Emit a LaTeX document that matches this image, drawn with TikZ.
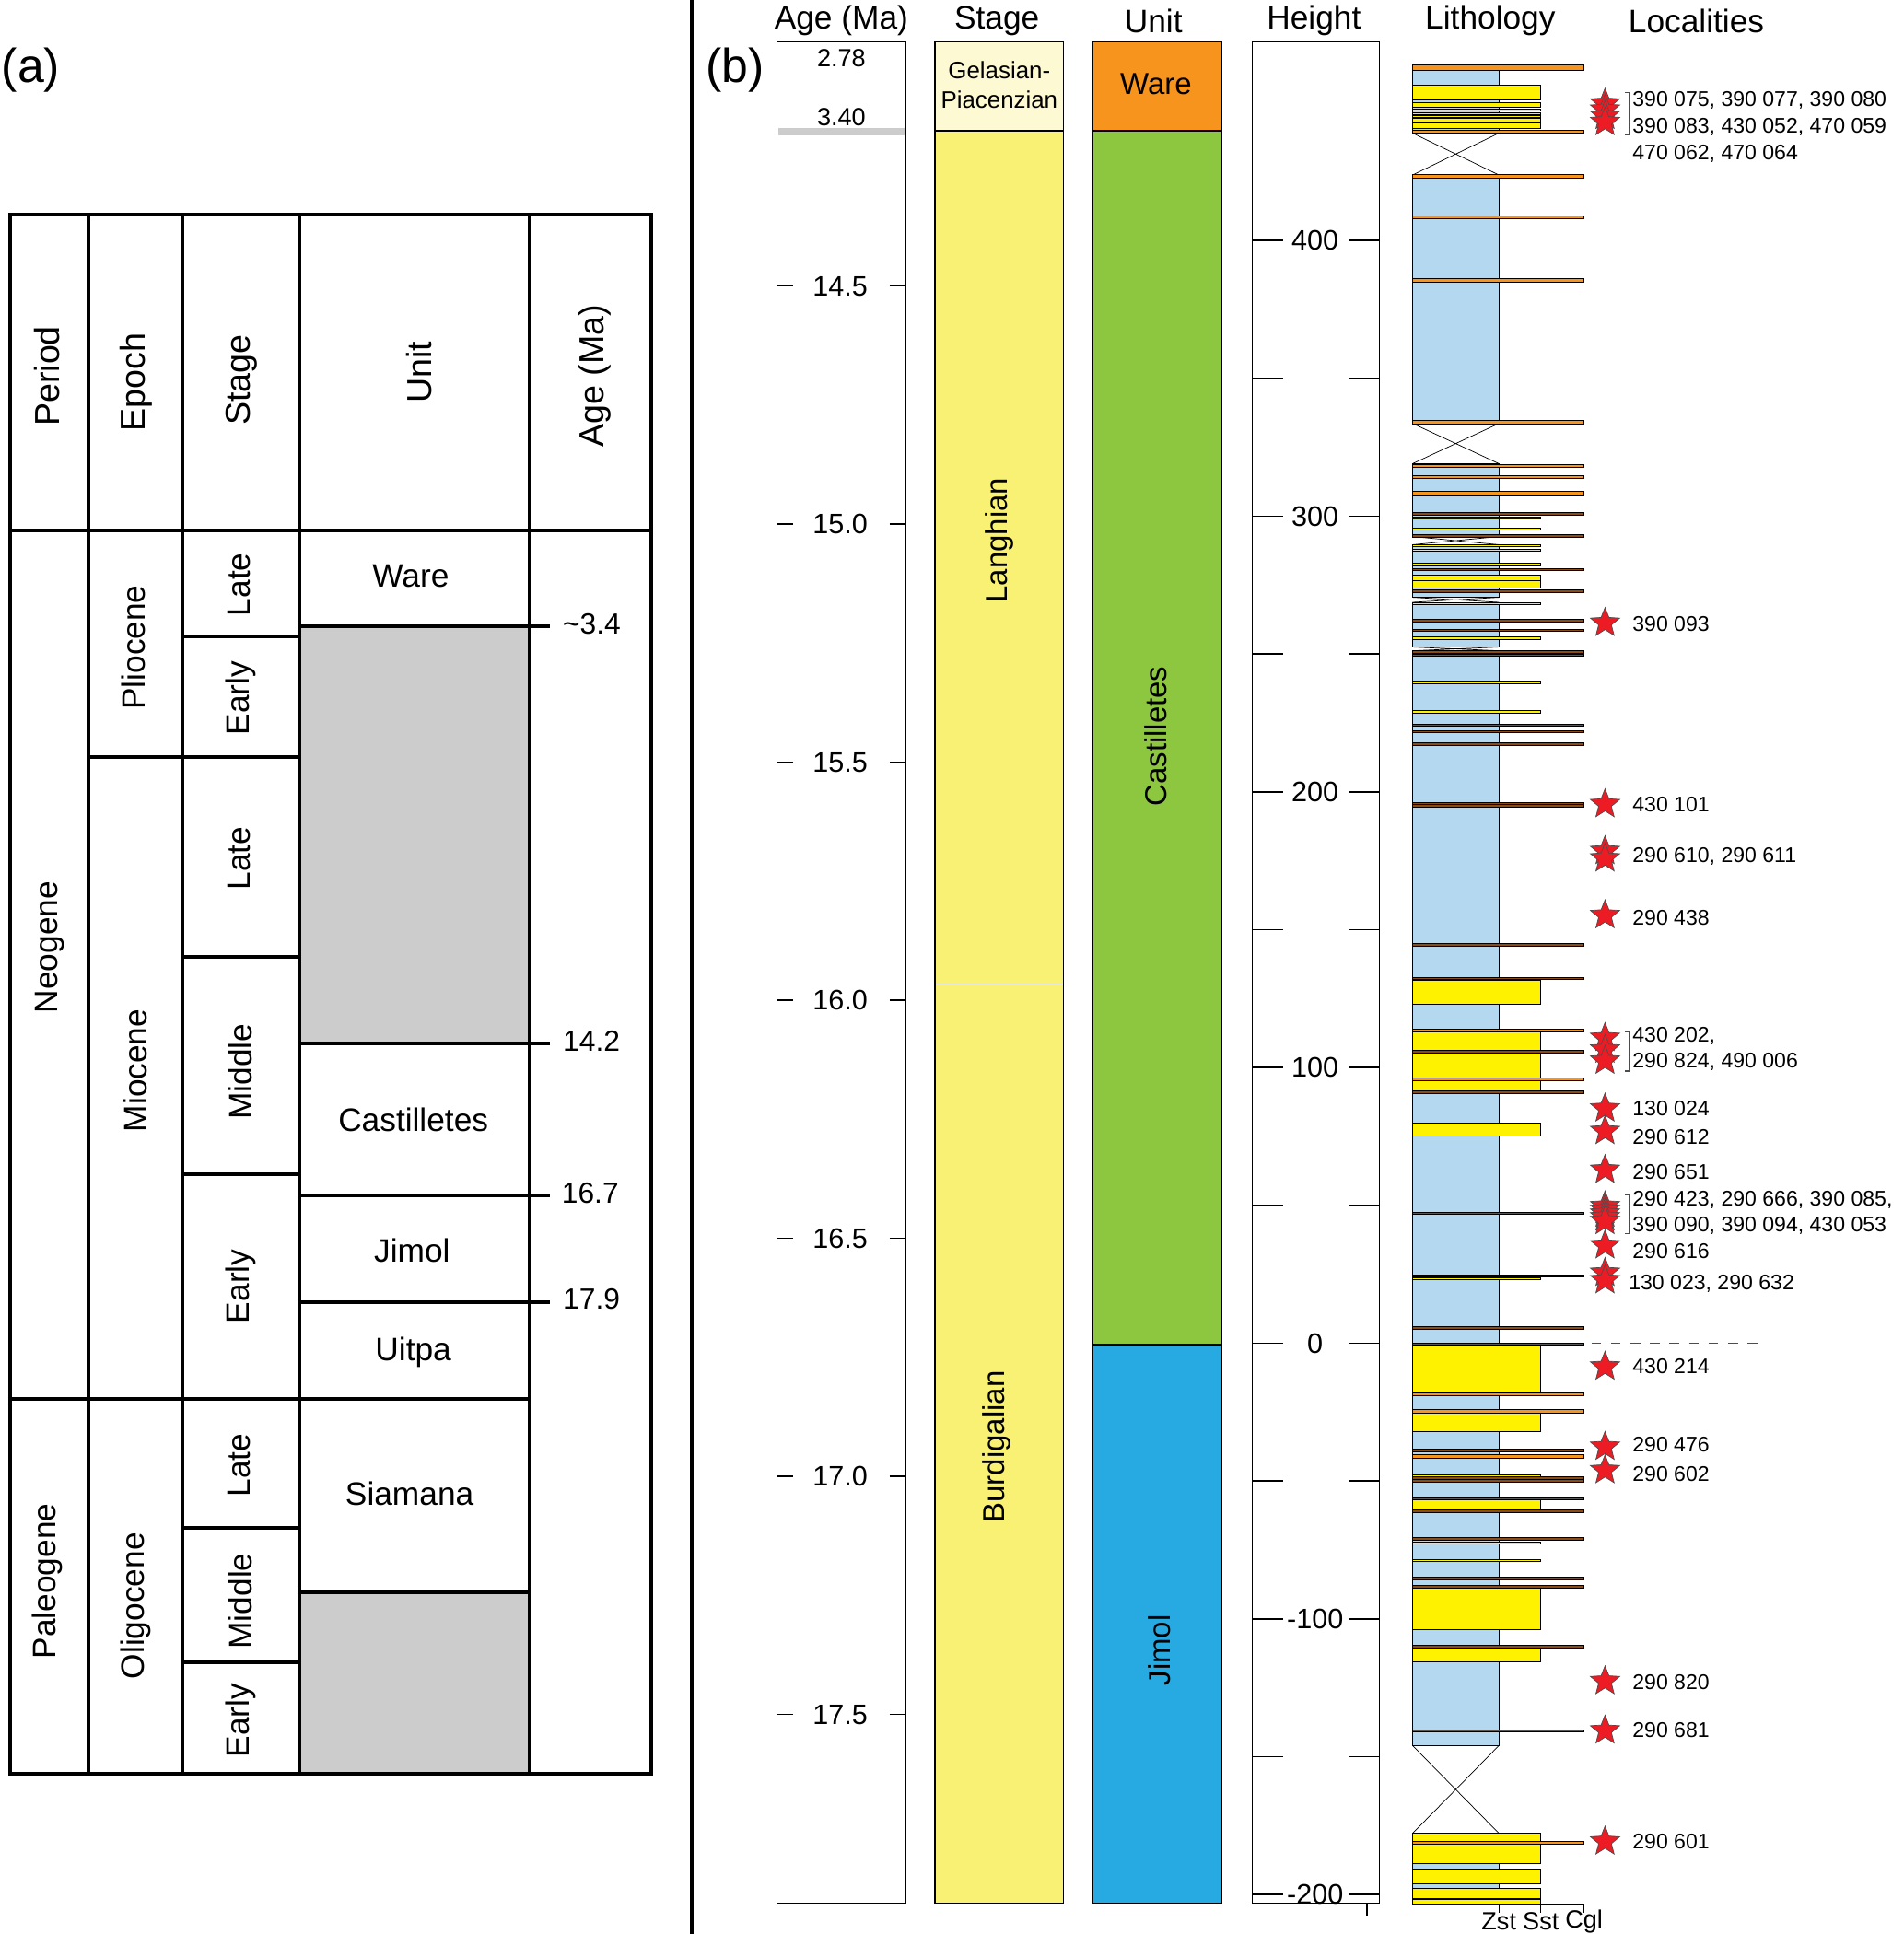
\documentclass[tikz,border=0pt]{standalone}
\usepackage{fontspec}
\setmainfont{Liberation Sans}
\usetikzlibrary{shapes.geometric}
\definecolor{unitgray}{HTML}{CCCCCC}
\definecolor{mudblue}{HTML}{B4D8F0}
\definecolor{sstyellow}{HTML}{FFF200}
\definecolor{cglorange}{HTML}{F7941D}
\definecolor{cglbrown}{HTML}{8B4B16}
\definecolor{starred}{HTML}{ED1C24}
\definecolor{gelasian}{HTML}{FDF9D2}
\definecolor{miostage}{HTML}{F8F173}
\definecolor{wareorange}{HTML}{F7941D}
\definecolor{castgreen}{HTML}{8DC63F}
\definecolor{jimolblue}{HTML}{27AAE1}
\newcommand{\fs}[1]{\fontsize{#1}{#1}\selectfont}
% lithology column: mudstone, sandstone, covered interval
\newcommand{\mudseg}[2]{\draw[bedline, fill=mudblue] (1145,#1) rectangle (1215,#2);}
\newcommand{\sstbed}[2]{\draw[bedline, fill=sstyellow] (1145,#1) rectangle (1249,#2);}
\newcommand{\gapx}[2]{\draw[bedline] (1145,#1) -- (1215,#2) (1145,#2) -- (1215,#1);}

\begin{document}
\begin{tikzpicture}[x=0.02cm, y=-0.02cm,
	thickrule/.style={line width=1.7pt},
	thinrule/.style={line width=0.6pt},
	bedline/.style={line width=0.3pt, draw=black},
	vlabel/.style={rotate=90, font=\fs{15}},
	hlabel/.style={font=\fs{15}},
	loc/.style={anchor=west, font=\fs{9.8}, inner sep=0pt},
	fossil/.style={star, star points=5, star point ratio=2.3, fill=starred, draw=black!70, line width=0.3pt, minimum size=0.5cm, inner sep=0pt}]
	%%%%% START %%%%%
	\useasboundingbox (0,0) rectangle (1543,1568);
	
	%%%%% (a) chart %%%%%
	\node[font=\fs{22}] (pa) at (25,57) {(a)};
	\fill[unitgray] (243,508) rectangle (429,846);
	\fill[unitgray] (243,1291) rectangle (429,1438);
	\draw[thickrule] (8,174) rectangle (528,1438);
	\draw[thickrule] (8,430) -- (528,430);
	\foreach \xx in {72,148,243,429}
		\draw[thickrule] (\xx,174) -- (\xx,1438);
	\draw[thickrule] (8,1134) -- (429,1134);
	\draw[thickrule] (72,614) -- (243,614);
	\foreach \yy in {516,776,952,1239,1348}
		\draw[thickrule] (148,\yy) -- (243,\yy);
	\foreach \yy in {508,846,969,1056}
		\draw[thickrule] (243,\yy) -- (446,\yy);
	\draw[thickrule] (243,1291) -- (429,1291);
	
	\node[vlabel, font=\fs{16}] (hperiod) at (38,305) {Period};
	\node[vlabel, font=\fs{16}] (hepoch) at (110,310) {Epoch};
	\node[vlabel, font=\fs{16}] (hstage) at (196,308) {Stage};
	\node[vlabel, font=\fs{16}] (hunit) at (340,302) {Unit};
	\node[vlabel, font=\fs{16}] (hage) at (482,305) {Age (Ma)};
	
	\node[vlabel] (neogene) at (40,768) {Neogene};
	\node[vlabel] (paleogene) at (38,1282) {Paleogene};
	\node[vlabel] (pliocene) at (108,525) {Pliocene};
	\node[vlabel] (miocene) at (110,868) {Miocene};
	\node[vlabel] (oligocene) at (110,1302) {Oligocene};
	\node[vlabel] (plilate) at (194,474) {Late};
	\node[vlabel] (pliearly) at (195,566) {Early};
	\node[vlabel] (miolate) at (194,696) {Late};
	\node[vlabel] (miomid) at (195,869) {Middle};
	\node[vlabel] (mioearly) at (195,1043) {Early};
	\node[vlabel] (olilate) at (194,1188) {Late};
	\node[vlabel] (olimid) at (195,1298) {Middle};
	\node[vlabel] (oliearly) at (195,1395) {Early};
	
	\node[hlabel] (uware) at (333,467) {Ware};
	\node[hlabel] (ucast) at (335,908) {Castilletes};
	\node[hlabel] (ujimol) at (334,1014) {Jimol};
	\node[hlabel] (uuitpa) at (335,1096) {Uitpa};
	\node[hlabel] (usiamana) at (332,1211) {Siamana};
	
	\node[anchor=west, inner sep=0pt, font=\fs{13.5}] (age34) at (456,506) {\textasciitilde3.4};
	\node[anchor=west, inner sep=0pt, font=\fs{13.5}] (age142) at (456,844) {14.2};
	\node[anchor=west, inner sep=0pt, font=\fs{13.5}] (age167) at (455,967) {16.7};
	\node[anchor=west, inner sep=0pt, font=\fs{13.5}] (age179) at (456,1053) {17.9};
	
	\draw[thickrule] (561,0) -- (561,1568);
	
	%%%%% (b) section %%%%%
	\node[font=\fs{22}] (pb) at (596,57) {(b)};
	\node[hlabel] (bage) at (682,17) {Age (Ma)};
	\node[hlabel] (bstage) at (808,17) {Stage};
	\node[hlabel] (bunit) at (935,17) {Unit};
	\node[hlabel] (bheight) at (1065,17) {Height};
	\node[hlabel] (blith) at (1208,17) {Lithology};
	\node[hlabel] (bloc) at (1375,17) {Localities};
	
	% age
	\draw[thinrule] (630,34) rectangle (734,1543);
	\fill[unitgray] (631,104) rectangle (733,110);
	\node[font=\fs{11.5}] (a278) at (682,47) {2.78};
	\node[font=\fs{11.5}] (a340) at (682,95) {3.40};
	\foreach \a in {14.5,15.0,15.5,16.0,16.5,17.0,17.5} {
		\pgfmathsetmacro\yy{232+(\a-14.5)*386}
		\draw[thinrule] (630,\yy) -- (643,\yy) (721,\yy) -- (734,\yy);
		\node[font=\fs{13}] at (681,\yy) {\a};
	}
	
	% stage
	\draw[thinrule, fill=gelasian] (758,34) rectangle (862,106);
	\draw[thinrule, fill=miostage] (758,106) rectangle (862,798);
	\draw[thinrule, fill=miostage] (758,798) rectangle (862,1543);
	\node[font=\fs{11}] (gel) at (810,57) {Gelasian-};
	\node[font=\fs{11}] (pia) at (810,81) {Piacenzian};
	\node[vlabel, font=\fs{14}] (lang) at (810,438) {Langhian};
	\node[vlabel, font=\fs{14}] (burd) at (808,1173) {Burdigalian};
	
	% unit
	\draw[thinrule, fill=wareorange] (886,34) rectangle (990,106);
	\draw[thinrule, fill=castgreen] (886,106) rectangle (990,1090);
	\draw[thinrule, fill=jimolblue] (886,1090) rectangle (990,1543);
	\node[font=\fs{14}] (bware) at (937,68) {Ware};
	\node[vlabel, font=\fs{14}] (bcast) at (937,597) {Castilletes};
	\node[vlabel, font=\fs{14}] (bjimol) at (940,1338) {Jimol};
	
	% height
	\draw[thinrule] (1015,34) rectangle (1118,1543);
	\foreach \h in {-200,-150,...,400} {
		\pgfmathsetmacro\yy{1089-\h*2.235}
		\draw[thinrule] (1015,\yy) -- (1040,\yy) (1093,\yy) -- (1118,\yy);
	}
	\foreach \h in {-200,-100,0,100,200,300,400} {
		\pgfmathsetmacro\yy{1089-\h*2.235}
		\node[font=\fs{13}] at (1066,\yy) {\h};
	}
	\draw[thinrule] (1108,1543) -- (1108,1553);
	
	% lithology
	\mudseg{57}{107.9}
	\mudseg{141.9}{343.3}
	\mudseg{375.9}{435}
	\mudseg{441.6}{484.3}
	\mudseg{488.3}{524.6}
	\mudseg{527.6}{1415.2}
	\mudseg{1486.4}{1543.8}
	\gapx{107.9}{141.9}
	\gapx{343.3}{375.9}
	\gapx{435}{441.6}
	\gapx{484.3}{488.3}
	\gapx{524.6}{527.6}
	\gapx{1415.2}{1486.4}
	\foreach \ya/\yb in {68.6/80.9, 83.2/87, 91/93, 95.5/98.5, 99.9/103.9, 466/471, 471/476.6,
		794.4/814, 836.5/852.2, 853.3/874.7, 875.8/885.5, 910.5/921.2, 1090.3/1129.2,
		1145.4/1160.3, 1216/1224.7, 1287.2/1321.2, 1335.2/1347.2, 1486.4/1510.7,
		1515.6/1526.9, 1531.1/1538.9, 1539.6/1543.8}
		\sstbed{\ya}{\yb}
	\foreach \yy in {89,94.3,420,429,442.3,446,457.6,489.3,517.3,553.2,577.1,1036.6,1196.5,1251,1265.2}
		\draw[bedline, fill=sstyellow] (1145,\yy-0.8) rectangle (1249,\yy+0.8);
	\foreach \yy in {142.9,175.9,227.2,342.3,377.6,386.6,835.4,874.7,1130.1,1144.1,1180.7,1493.9,106.9}
		\draw[bedline, fill=cglorange] (1145,\yy-1.2) rectangle (1284,\yy+1.2);
	\draw[bedline, fill=cglorange] (1145,52.6) rectangle (1284,57.2);
	\draw[bedline, fill=cglorange] (1145,397.9) rectangle (1284,401.9);
	\foreach \yy in {416.6,434.3,461.6,479,503.3,511,528.3,531.2,587.8,593.2,603.2,651.4,653.2,765.8,793.3,
		852.6,885.5,983.7,1034.5,1076.6,1089.6,1176.1,1198.2,1200.4,1215,1225,1247.7,1279.8,1286.6,1334.8,1403.2}
		\draw[bedline, fill=cglbrown] (1145,\yy-1) rectangle (1284,\yy+1);
	\draw[thinrule] (1145,1544) -- (1284,1544);
	\foreach \xx/\t in {1215/Zst,1249/Sst,1284/Cgl} {
		\draw[thinrule] (\xx,1544) -- (\xx,1551);
		\node[font=\fs{11.5}] at (\xx,1558) {\t};
	}
	\draw[thinrule, black!70, dash pattern=on 4.5pt off 4.5pt] (1290,1089) -- (1430,1089);
	
	% localities
	\foreach \yy in {84,89,94,99, 690,696, 841.5,851,860, 978,981,984,987,990, 1032,1038,
		505,652,742,898.7,917,948.5,1009.7,1108,1173,1192,1363,1403,1493}
		\node[fossil] at (1301,\yy) {};
	\foreach \ya/\yb in {75/109, 836.5/868.4, 968.5/1000}
		\draw[thinrule, black!70] (1317,\ya) -- (1321,\ya) -- (1321,\yb) -- (1317,\yb);
	\foreach \yy/\t in {81/{390 075, 390 077, 390 080}, 103/{390 083, 430 052, 470 059}, 125/{470 062, 470 064},
		506/{390 093}, 652/{430 101}, 694/{290 610, 290 611}, 744/{290 438}, 840/{430 202,},
		861/{290 824, 490 006}, 899/{130 024}, 921.7/{290 612}, 949.8/{290 651},
		1014.4/{290 616}, 1108/{430 214}, 1171/{290 476}, 1195/{290 602}, 1364/{290 820},
		1403/{290 681}, 1493/{290 601}}
		\node[loc] at (1323,\yy) {\t};
	\node[loc] (loc972) at (1323,972.5) {290 423, 290 666, 390 085,};
	\node[loc] (loc993) at (1323,993.4) {390 090, 390 094, 430 053};
	\node[loc] (loc1040) at (1320,1040.5) {130 023, 290 632};
	
	%%%%% END %%%%%
\end{tikzpicture}
\end{document}
